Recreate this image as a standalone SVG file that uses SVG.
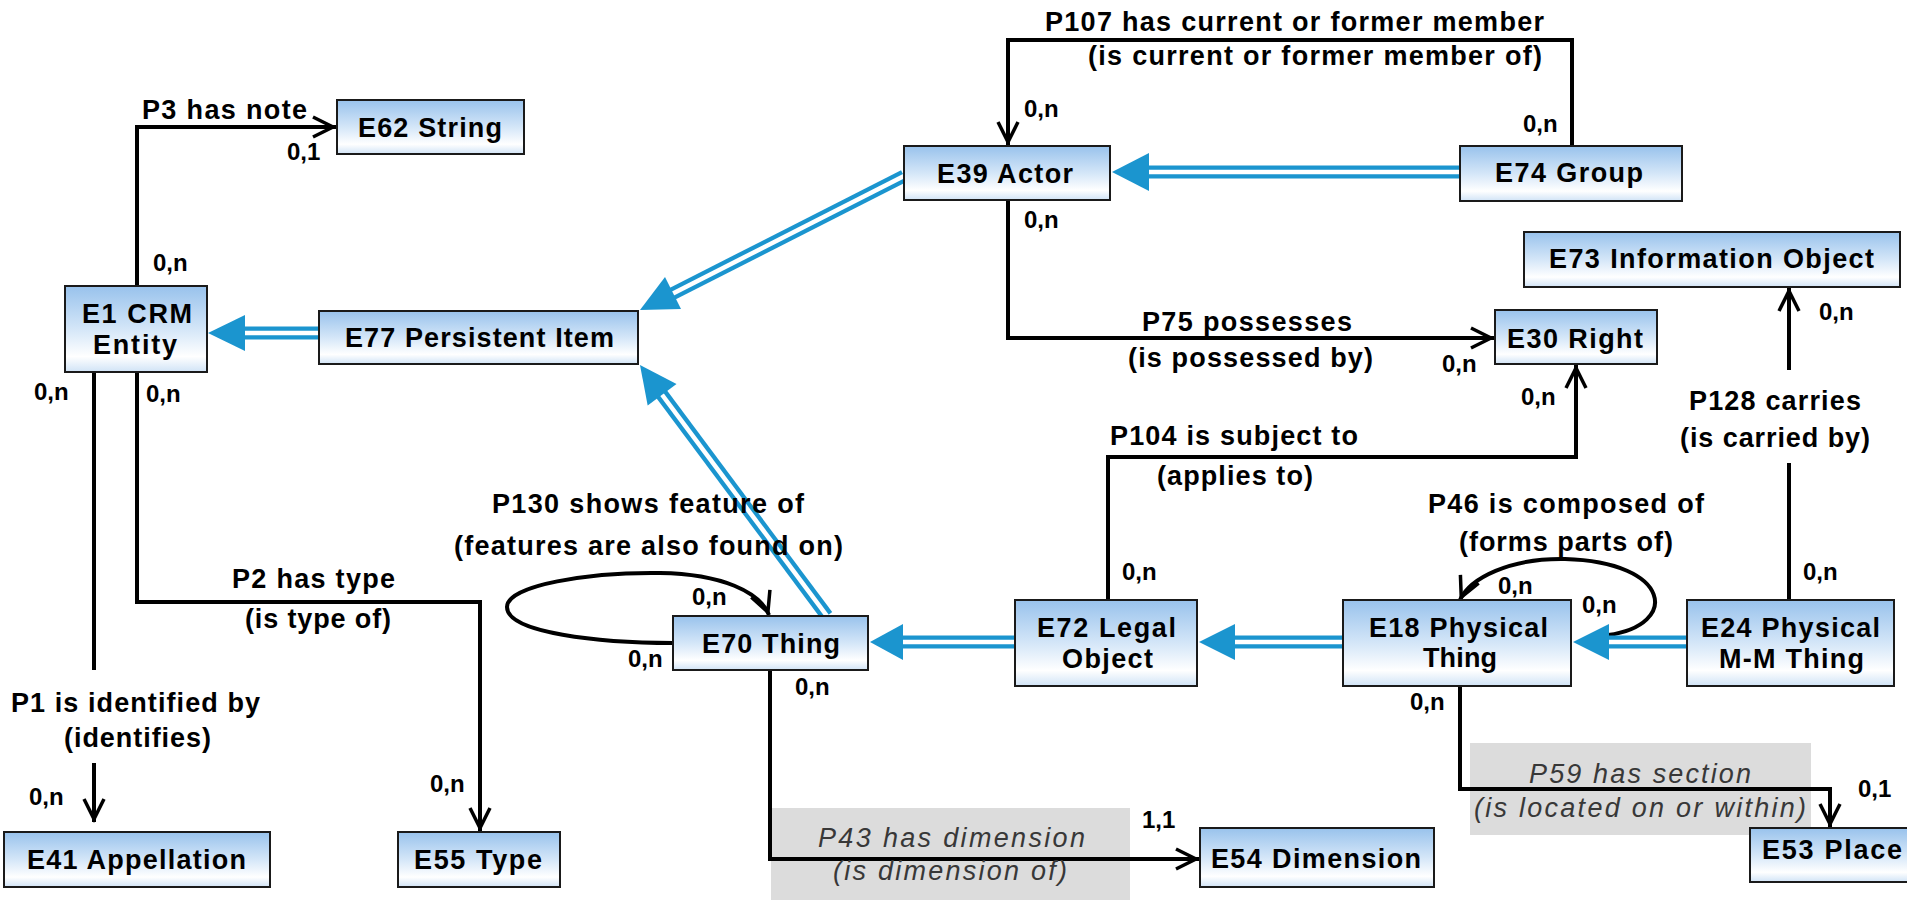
<svg xmlns="http://www.w3.org/2000/svg" width="1907" height="900" viewBox="0 0 1907 900">
<defs>
<linearGradient id="boxfill" x1="0" y1="0" x2="0" y2="1">
<stop offset="0" stop-color="#98c2ec"/>
<stop offset="0.5" stop-color="#d4e6f8"/>
<stop offset="0.82" stop-color="#ffffff"/>
<stop offset="1" stop-color="#d0e3f6"/>
</linearGradient>
<marker id="arrow" markerUnits="userSpaceOnUse" markerWidth="30" markerHeight="26" refX="25" refY="12" orient="auto" overflow="visible">
<path d="M2,2 L22,12 L2,22" fill="none" stroke="#000" stroke-width="3.5"/>
</marker>
</defs>
<style>
.box{fill:url(#boxfill);stroke:#1a1a1a;stroke-width:2}
.t{font-family:"Liberation Sans",Arial,sans-serif;font-weight:bold;font-size:27px;fill:#000}
.c{font-family:"Liberation Sans",Arial,sans-serif;font-weight:bold;font-size:24px;fill:#000}
.i{font-family:"Liberation Sans",Arial,sans-serif;font-style:italic;font-size:27px;fill:#383838}
.ln{fill:none;stroke:#000;stroke-width:4}
.ar{marker-end:url(#arrow)}
.ib{fill:none;stroke:#1b95cf;stroke-width:13}
.iw{fill:none;stroke:#fff;stroke-width:4.5}
.tri{fill:#1b95cf}
.gray{fill:#dcdcdc}
</style>
<rect width="1907" height="900" fill="#fff"/>

<g id="label-backgrounds">
<rect class="gray" x="771" y="808" width="359" height="92"/>
<rect class="gray" x="1470" y="743" width="341" height="92"/>
</g>

<g id="connectors">
<!-- P3 -->
<path class="ln ar" d="M137,286 V127 H336"/>
<!-- P1 -->
<path class="ln" d="M94,372 V670"/>
<path class="ln ar" d="M94,763 V822"/>
<!-- P2 -->
<path class="ln ar" d="M137,372 V602 H480 V831"/>
<!-- P107 -->
<path class="ln ar" d="M1572,146 V40 H1008 V145"/>
<!-- P75 -->
<path class="ln ar" d="M1008,200 V338 H1494"/>
<!-- P104 -->
<path class="ln ar" d="M1108,600 V457 H1576 V365"/>
<!-- P128 -->
<path class="ln" d="M1789,463 V600"/>
<path class="ln ar" d="M1789,370 V288"/>
<!-- P46 loop -->
<path class="ln ar" d="M1608,635 C1680,625 1672,562 1565,559 C1510,558 1470,578 1460,600"/>
<!-- P130 loop -->
<path class="ln ar" d="M673,643 C600,643 507,633 507,607 C507,585 590,572 660,573 C722,574 760,592 769,615"/>
<!-- P43 -->
<path class="ln ar" d="M770,670 V859 H1199"/>
<!-- P59 -->
<path class="ln ar" d="M1460,687 V789 H1830 V827"/>

<!-- inheritance: E77 -> E1 -->
<path class="ib" d="M319,333 H242"/>
<path class="iw" d="M319,333 H242"/>
<polygon class="tri" points="208,333 245,315 245,351"/>
<!-- E39 -> E77 -->
<path class="ib" d="M904,176 L670,295"/>
<path class="iw" d="M904,176 L670,295"/>
<polygon class="tri" points="640,310 681,309 665,277"/>
<!-- E70 -> E77 -->
<path class="ib" d="M827,616 L660,392"/>
<path class="iw" d="M827,616 L660,392"/>
<polygon class="tri" points="640,365 676.5,384 647.7,405.5"/>
<!-- E74 -> E39 -->
<path class="ib" d="M1460,172 H1146"/>
<path class="iw" d="M1460,172 H1146"/>
<polygon class="tri" points="1112,172 1149,153 1149,191"/>
<!-- E72 -> E70 -->
<path class="ib" d="M1015,642 H900"/>
<path class="iw" d="M1015,642 H900"/>
<polygon class="tri" points="870,642 903,624 903,660"/>
<!-- E18 -> E72 -->
<path class="ib" d="M1343,642 H1232"/>
<path class="iw" d="M1343,642 H1232"/>
<polygon class="tri" points="1199,642 1235,624 1235,660"/>
<!-- E24 -> E18 -->
<path class="ib" d="M1687,642 H1606"/>
<path class="iw" d="M1687,642 H1606"/>
<polygon class="tri" points="1573,642 1609,624 1609,660"/>
</g>

<g id="connector-labels">
<text class="t" x="142" y="119" textLength="165">P3 has note</text>
<text class="c" x="287" y="160">0,1</text>
<text class="c" x="153" y="271">0,n</text>

<text class="t" x="1045" y="31" textLength="499">P107 has current or former member</text>
<text class="t" x="1088" y="65" textLength="454">(is current or former member of)</text>
<text class="c" x="1024" y="117">0,n</text>
<text class="c" x="1523" y="132">0,n</text>
<text class="c" x="1024" y="228">0,n</text>

<text class="t" x="1142" y="331" textLength="210">P75 possesses</text>
<text class="t" x="1128" y="367" textLength="245">(is possessed by)</text>
<text class="c" x="1442" y="372">0,n</text>

<text class="c" x="1819" y="320">0,n</text>
<text class="t" x="1689" y="410" textLength="172">P128 carries</text>
<text class="t" x="1680" y="447" textLength="190">(is carried by)</text>
<text class="c" x="1803" y="580">0,n</text>

<text class="c" x="1521" y="405">0,n</text>
<text class="t" x="1110" y="445" textLength="248">P104 is subject to</text>
<text class="t" x="1157" y="485" textLength="156">(applies to)</text>
<text class="c" x="1122" y="580">0,n</text>

<text class="t" x="1428" y="513" textLength="276">P46 is composed of</text>
<text class="t" x="1459" y="551" textLength="214">(forms parts of)</text>
<text class="c" x="1498" y="594">0,n</text>
<text class="c" x="1582" y="613">0,n</text>
<text class="c" x="1410" y="710">0,n</text>

<text class="i" x="1529" y="783" textLength="222">P59 has section</text>
<text class="i" x="1474" y="817" textLength="332">(is located on or within)</text>
<text class="c" x="1858" y="797">0,1</text>

<text class="t" x="492" y="513" textLength="312">P130 shows feature of</text>
<text class="t" x="454" y="555" textLength="389">(features are also found on)</text>
<text class="c" x="692" y="605">0,n</text>
<text class="c" x="628" y="667">0,n</text>
<text class="c" x="795" y="695">0,n</text>

<text class="i" x="818" y="847" textLength="267">P43 has dimension</text>
<text class="i" x="833" y="880" textLength="234">(is dimension of)</text>
<text class="c" x="1142" y="828">1,1</text>

<text class="c" x="34" y="400">0,n</text>
<text class="c" x="146" y="402">0,n</text>
<text class="t" x="232" y="588" textLength="163">P2 has type</text>
<text class="t" x="245" y="628" textLength="146">(is type of)</text>
<text class="c" x="430" y="792">0,n</text>
<text class="t" x="11" y="712" textLength="249">P1 is identified by</text>
<text class="t" x="64" y="747" textLength="147">(identifies)</text>
<text class="c" x="29" y="805">0,n</text>
</g>

<g id="E62">
<rect class="box" x="337" y="100" width="187" height="54"/>
<text class="t" x="358" y="137" textLength="144">E62 String</text>
</g>
<g id="E1">
<rect class="box" x="65" y="286" width="142" height="86"/>
<text class="t" x="82" y="323" textLength="110">E1 CRM</text>
<text class="t" x="93" y="354" textLength="84">Entity</text>
</g>
<g id="E77">
<rect class="box" x="319" y="311" width="319" height="53"/>
<text class="t" x="345" y="347" textLength="269">E77 Persistent Item</text>
</g>
<g id="E39">
<rect class="box" x="904" y="146" width="206" height="54"/>
<text class="t" x="937" y="183" textLength="136">E39 Actor</text>
</g>
<g id="E74">
<rect class="box" x="1460" y="146" width="222" height="55"/>
<text class="t" x="1495" y="182" textLength="148">E74 Group</text>
</g>
<g id="E73">
<rect class="box" x="1524" y="232" width="376" height="55"/>
<text class="t" x="1549" y="268" textLength="325">E73 Information Object</text>
</g>
<g id="E30">
<rect class="box" x="1495" y="310" width="162" height="54"/>
<text class="t" x="1507" y="348" textLength="136">E30 Right</text>
</g>
<g id="E18">
<rect class="box" x="1343" y="600" width="228" height="86"/>
<text class="t" x="1369" y="637" textLength="179">E18 Physical</text>
<text class="t" x="1423" y="667" textLength="74">Thing</text>
</g>
<g id="E24">
<rect class="box" x="1687" y="600" width="207" height="86"/>
<text class="t" x="1701" y="637" textLength="179">E24 Physical</text>
<text class="t" x="1719" y="668" textLength="145">M-M Thing</text>
</g>
<g id="E72">
<rect class="box" x="1015" y="600" width="182" height="86"/>
<text class="t" x="1037" y="637" textLength="139">E72 Legal</text>
<text class="t" x="1062" y="668" textLength="91">Object</text>
</g>
<g id="E70">
<rect class="box" x="673" y="616" width="195" height="54"/>
<text class="t" x="702" y="653" textLength="138">E70 Thing</text>
</g>
<g id="E54">
<rect class="box" x="1200" y="828" width="234" height="59"/>
<text class="t" x="1211" y="868" textLength="210">E54 Dimension</text>
</g>
<g id="E53">
<rect class="box" x="1750" y="828" width="170" height="54"/>
<text class="t" x="1762" y="859" textLength="140">E53 Place</text>
</g>
<g id="E41">
<rect class="box" x="4" y="832" width="266" height="55"/>
<text class="t" x="27" y="869" textLength="219">E41 Appellation</text>
</g>
<g id="E55">
<rect class="box" x="398" y="832" width="162" height="55"/>
<text class="t" x="414" y="869" textLength="128">E55 Type</text>
</g>
</svg>
